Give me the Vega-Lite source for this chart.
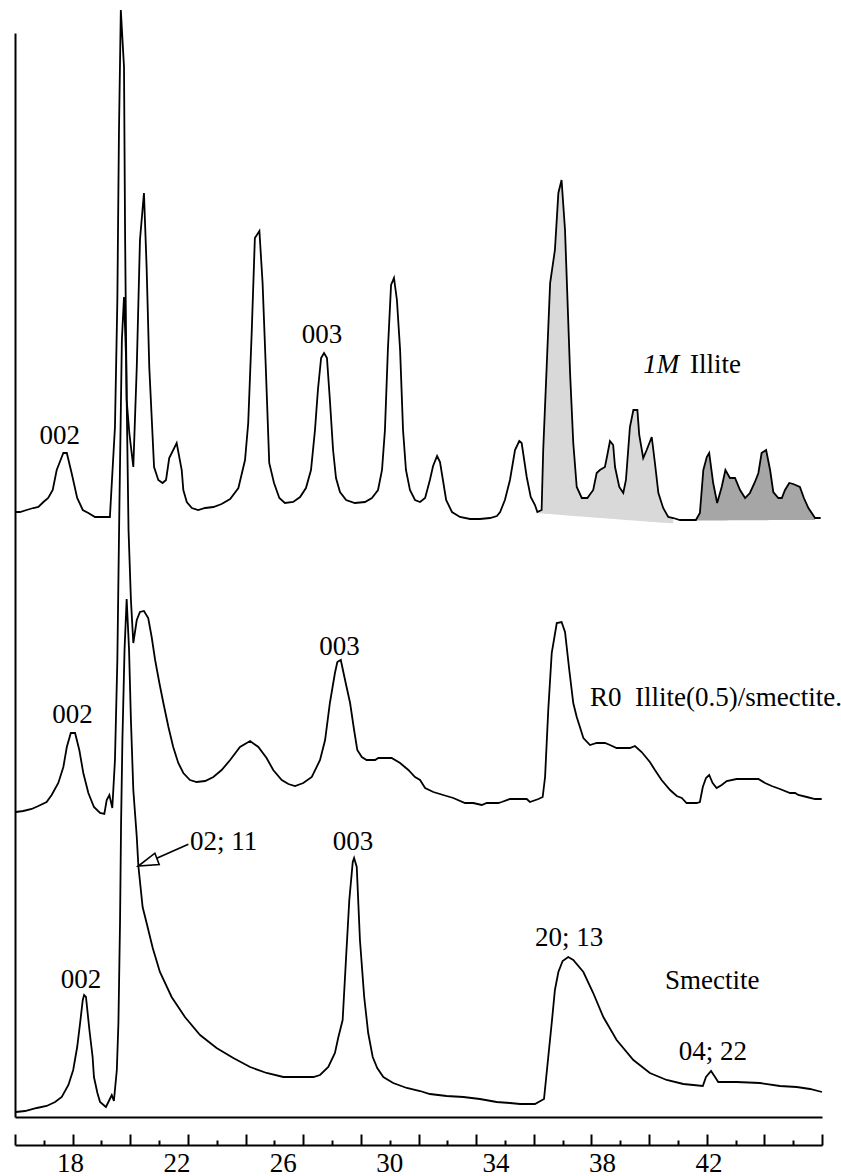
{
  "$schema": "https://vega.github.io/schema/vega-lite/v6.json",
  "width": 807,
  "height": 1084,
  "autosize": {"type": "none"},
  "padding": {"left": 15, "top": 33, "right": 19, "bottom": 59},
  "background": "white",
  "config": {"view": {"stroke": null}, "font": "Liberation Serif, Times New Roman, Times, serif"},
  "datasets": {
    "traces": [
      {"pattern": "1M Illite", "theta": 15.96, "counts": 605},
      {"pattern": "1M Illite", "theta": 16.12, "counts": 605},
      {"pattern": "1M Illite", "theta": 16.37, "counts": 607},
      {"pattern": "1M Illite", "theta": 16.62, "counts": 609},
      {"pattern": "1M Illite", "theta": 16.81, "counts": 610},
      {"pattern": "1M Illite", "theta": 17.0, "counts": 615},
      {"pattern": "1M Illite", "theta": 17.18, "counts": 619},
      {"pattern": "1M Illite", "theta": 17.35, "counts": 627},
      {"pattern": "1M Illite", "theta": 17.5, "counts": 647},
      {"pattern": "1M Illite", "theta": 17.69, "counts": 660},
      {"pattern": "1M Illite", "theta": 17.75, "counts": 664},
      {"pattern": "1M Illite", "theta": 17.88, "counts": 664},
      {"pattern": "1M Illite", "theta": 18.06, "counts": 644},
      {"pattern": "1M Illite", "theta": 18.27, "counts": 619},
      {"pattern": "1M Illite", "theta": 18.48, "counts": 607},
      {"pattern": "1M Illite", "theta": 18.69, "counts": 604},
      {"pattern": "1M Illite", "theta": 18.94, "counts": 600},
      {"pattern": "1M Illite", "theta": 19.5, "counts": 600},
      {"pattern": "1M Illite", "theta": 19.69, "counts": 690},
      {"pattern": "1M Illite", "theta": 19.78, "counts": 817},
      {"pattern": "1M Illite", "theta": 19.84, "counts": 984},
      {"pattern": "1M Illite", "theta": 19.91, "counts": 1107},
      {"pattern": "1M Illite", "theta": 20.03, "counts": 1050},
      {"pattern": "1M Illite", "theta": 20.07, "counts": 884},
      {"pattern": "1M Illite", "theta": 20.13, "counts": 717},
      {"pattern": "1M Illite", "theta": 20.23, "counts": 684},
      {"pattern": "1M Illite", "theta": 20.38, "counts": 650},
      {"pattern": "1M Illite", "theta": 20.51, "counts": 750},
      {"pattern": "1M Illite", "theta": 20.63, "counts": 877},
      {"pattern": "1M Illite", "theta": 20.78, "counts": 924},
      {"pattern": "1M Illite", "theta": 20.88, "counts": 850},
      {"pattern": "1M Illite", "theta": 20.98, "counts": 750},
      {"pattern": "1M Illite", "theta": 21.16, "counts": 650},
      {"pattern": "1M Illite", "theta": 21.32, "counts": 637},
      {"pattern": "1M Illite", "theta": 21.48, "counts": 634},
      {"pattern": "1M Illite", "theta": 21.61, "counts": 637},
      {"pattern": "1M Illite", "theta": 21.73, "counts": 659},
      {"pattern": "1M Illite", "theta": 22.01, "counts": 674},
      {"pattern": "1M Illite", "theta": 22.2, "counts": 647},
      {"pattern": "1M Illite", "theta": 22.26, "counts": 627},
      {"pattern": "1M Illite", "theta": 22.39, "counts": 615},
      {"pattern": "1M Illite", "theta": 22.58, "counts": 609},
      {"pattern": "1M Illite", "theta": 22.82, "counts": 607},
      {"pattern": "1M Illite", "theta": 23.08, "counts": 609},
      {"pattern": "1M Illite", "theta": 23.39, "counts": 610},
      {"pattern": "1M Illite", "theta": 23.7, "counts": 613},
      {"pattern": "1M Illite", "theta": 24.02, "counts": 618},
      {"pattern": "1M Illite", "theta": 24.33, "counts": 629},
      {"pattern": "1M Illite", "theta": 24.58, "counts": 657},
      {"pattern": "1M Illite", "theta": 24.7, "counts": 694},
      {"pattern": "1M Illite", "theta": 24.83, "counts": 784},
      {"pattern": "1M Illite", "theta": 24.95, "counts": 879},
      {"pattern": "1M Illite", "theta": 25.12, "counts": 886},
      {"pattern": "1M Illite", "theta": 25.24, "counts": 834},
      {"pattern": "1M Illite", "theta": 25.36, "counts": 750},
      {"pattern": "1M Illite", "theta": 25.49, "counts": 654},
      {"pattern": "1M Illite", "theta": 25.67, "counts": 634},
      {"pattern": "1M Illite", "theta": 25.87, "counts": 619},
      {"pattern": "1M Illite", "theta": 26.08, "counts": 614},
      {"pattern": "1M Illite", "theta": 26.39, "counts": 615},
      {"pattern": "1M Illite", "theta": 26.65, "counts": 620},
      {"pattern": "1M Illite", "theta": 26.87, "counts": 629},
      {"pattern": "1M Illite", "theta": 27.06, "counts": 647},
      {"pattern": "1M Illite", "theta": 27.21, "counts": 687},
      {"pattern": "1M Illite", "theta": 27.32, "counts": 727},
      {"pattern": "1M Illite", "theta": 27.44, "counts": 759},
      {"pattern": "1M Illite", "theta": 27.55, "counts": 764},
      {"pattern": "1M Illite", "theta": 27.66, "counts": 759},
      {"pattern": "1M Illite", "theta": 27.77, "counts": 717},
      {"pattern": "1M Illite", "theta": 27.89, "counts": 667},
      {"pattern": "1M Illite", "theta": 28.0, "counts": 639},
      {"pattern": "1M Illite", "theta": 28.15, "counts": 625},
      {"pattern": "1M Illite", "theta": 28.38, "counts": 617},
      {"pattern": "1M Illite", "theta": 28.71, "counts": 614},
      {"pattern": "1M Illite", "theta": 29.09, "counts": 615},
      {"pattern": "1M Illite", "theta": 29.35, "counts": 619},
      {"pattern": "1M Illite", "theta": 29.58, "counts": 627},
      {"pattern": "1M Illite", "theta": 29.73, "counts": 647},
      {"pattern": "1M Illite", "theta": 29.84, "counts": 687},
      {"pattern": "1M Illite", "theta": 29.95, "counts": 767},
      {"pattern": "1M Illite", "theta": 30.07, "counts": 832},
      {"pattern": "1M Illite", "theta": 30.18, "counts": 839},
      {"pattern": "1M Illite", "theta": 30.29, "counts": 817},
      {"pattern": "1M Illite", "theta": 30.41, "counts": 767},
      {"pattern": "1M Illite", "theta": 30.52, "counts": 687},
      {"pattern": "1M Illite", "theta": 30.63, "counts": 647},
      {"pattern": "1M Illite", "theta": 30.78, "counts": 627},
      {"pattern": "1M Illite", "theta": 30.97, "counts": 617},
      {"pattern": "1M Illite", "theta": 31.16, "counts": 615},
      {"pattern": "1M Illite", "theta": 31.35, "counts": 619},
      {"pattern": "1M Illite", "theta": 31.53, "counts": 637},
      {"pattern": "1M Illite", "theta": 31.65, "counts": 651},
      {"pattern": "1M Illite", "theta": 31.8, "counts": 661},
      {"pattern": "1M Illite", "theta": 31.91, "counts": 655},
      {"pattern": "1M Illite", "theta": 32.02, "counts": 637},
      {"pattern": "1M Illite", "theta": 32.14, "counts": 617},
      {"pattern": "1M Illite", "theta": 32.36, "counts": 605},
      {"pattern": "1M Illite", "theta": 32.66, "counts": 600},
      {"pattern": "1M Illite", "theta": 33.04, "counts": 598},
      {"pattern": "1M Illite", "theta": 33.41, "counts": 598},
      {"pattern": "1M Illite", "theta": 33.79, "counts": 599},
      {"pattern": "1M Illite", "theta": 34.05, "counts": 601},
      {"pattern": "1M Illite", "theta": 34.17, "counts": 605},
      {"pattern": "1M Illite", "theta": 34.35, "counts": 617},
      {"pattern": "1M Illite", "theta": 34.54, "counts": 637},
      {"pattern": "1M Illite", "theta": 34.73, "counts": 667},
      {"pattern": "1M Illite", "theta": 34.89, "counts": 676},
      {"pattern": "1M Illite", "theta": 34.98, "counts": 674},
      {"pattern": "1M Illite", "theta": 35.17, "counts": 640},
      {"pattern": "1M Illite", "theta": 35.32, "counts": 620},
      {"pattern": "1M Illite", "theta": 35.48, "counts": 612},
      {"pattern": "1M Illite", "theta": 35.57, "counts": 605},
      {"pattern": "1M Illite", "theta": 35.73, "counts": 607},
      {"pattern": "1M Illite", "theta": 35.79, "counts": 667},
      {"pattern": "1M Illite", "theta": 35.92, "counts": 750},
      {"pattern": "1M Illite", "theta": 36.05, "counts": 834},
      {"pattern": "1M Illite", "theta": 36.23, "counts": 867},
      {"pattern": "1M Illite", "theta": 36.36, "counts": 924},
      {"pattern": "1M Illite", "theta": 36.48, "counts": 937},
      {"pattern": "1M Illite", "theta": 36.61, "counts": 887},
      {"pattern": "1M Illite", "theta": 36.8, "counts": 744},
      {"pattern": "1M Illite", "theta": 36.92, "counts": 674},
      {"pattern": "1M Illite", "theta": 37.05, "counts": 630},
      {"pattern": "1M Illite", "theta": 37.24, "counts": 619},
      {"pattern": "1M Illite", "theta": 37.45, "counts": 619},
      {"pattern": "1M Illite", "theta": 37.67, "counts": 627},
      {"pattern": "1M Illite", "theta": 37.8, "counts": 644},
      {"pattern": "1M Illite", "theta": 37.92, "counts": 647},
      {"pattern": "1M Illite", "theta": 38.11, "counts": 650},
      {"pattern": "1M Illite", "theta": 38.2, "counts": 662},
      {"pattern": "1M Illite", "theta": 38.3, "counts": 676},
      {"pattern": "1M Illite", "theta": 38.42, "counts": 672},
      {"pattern": "1M Illite", "theta": 38.49, "counts": 650},
      {"pattern": "1M Illite", "theta": 38.65, "counts": 630},
      {"pattern": "1M Illite", "theta": 38.8, "counts": 624},
      {"pattern": "1M Illite", "theta": 38.9, "counts": 637},
      {"pattern": "1M Illite", "theta": 39.05, "counts": 690},
      {"pattern": "1M Illite", "theta": 39.18, "counts": 707},
      {"pattern": "1M Illite", "theta": 39.33, "counts": 707},
      {"pattern": "1M Illite", "theta": 39.4, "counts": 682},
      {"pattern": "1M Illite", "theta": 39.55, "counts": 659},
      {"pattern": "1M Illite", "theta": 39.68, "counts": 667},
      {"pattern": "1M Illite", "theta": 39.87, "counts": 680},
      {"pattern": "1M Illite", "theta": 39.99, "counts": 654},
      {"pattern": "1M Illite", "theta": 40.12, "counts": 624},
      {"pattern": "1M Illite", "theta": 40.3, "counts": 609},
      {"pattern": "1M Illite", "theta": 40.49, "counts": 600},
      {"pattern": "1M Illite", "theta": 40.68, "counts": 599},
      {"pattern": "1M Illite", "theta": 40.93, "counts": 597},
      {"pattern": "1M Illite", "theta": 41.53, "counts": 597},
      {"pattern": "1M Illite", "theta": 41.68, "counts": 604},
      {"pattern": "1M Illite", "theta": 41.81, "counts": 647},
      {"pattern": "1M Illite", "theta": 41.94, "counts": 660},
      {"pattern": "1M Illite", "theta": 42.03, "counts": 664},
      {"pattern": "1M Illite", "theta": 42.18, "counts": 634},
      {"pattern": "1M Illite", "theta": 42.33, "counts": 614},
      {"pattern": "1M Illite", "theta": 42.5, "counts": 630},
      {"pattern": "1M Illite", "theta": 42.64, "counts": 647},
      {"pattern": "1M Illite", "theta": 42.81, "counts": 639},
      {"pattern": "1M Illite", "theta": 43.0, "counts": 639},
      {"pattern": "1M Illite", "theta": 43.19, "counts": 627},
      {"pattern": "1M Illite", "theta": 43.38, "counts": 619},
      {"pattern": "1M Illite", "theta": 43.56, "counts": 624},
      {"pattern": "1M Illite", "theta": 43.75, "counts": 635},
      {"pattern": "1M Illite", "theta": 43.88, "counts": 644},
      {"pattern": "1M Illite", "theta": 44.0, "counts": 664},
      {"pattern": "1M Illite", "theta": 44.17, "counts": 667},
      {"pattern": "1M Illite", "theta": 44.32, "counts": 647},
      {"pattern": "1M Illite", "theta": 44.44, "counts": 625},
      {"pattern": "1M Illite", "theta": 44.63, "counts": 619},
      {"pattern": "1M Illite", "theta": 44.76, "counts": 619},
      {"pattern": "1M Illite", "theta": 44.88, "counts": 627},
      {"pattern": "1M Illite", "theta": 45.04, "counts": 634},
      {"pattern": "1M Illite", "theta": 45.19, "counts": 633},
      {"pattern": "1M Illite", "theta": 45.44, "counts": 630},
      {"pattern": "1M Illite", "theta": 45.59, "counts": 619},
      {"pattern": "1M Illite", "theta": 45.76, "counts": 609},
      {"pattern": "1M Illite", "theta": 46.01, "counts": 599},
      {"pattern": "1M Illite", "theta": 46.22, "counts": 599},

      {"pattern": "R0 I/S", "theta": 15.96, "counts": 305},
      {"pattern": "R0 I/S", "theta": 16.24, "counts": 306},
      {"pattern": "R0 I/S", "theta": 16.56, "counts": 308},
      {"pattern": "R0 I/S", "theta": 16.81, "counts": 311},
      {"pattern": "R0 I/S", "theta": 17.12, "counts": 315},
      {"pattern": "R0 I/S", "theta": 17.31, "counts": 322},
      {"pattern": "R0 I/S", "theta": 17.56, "counts": 334},
      {"pattern": "R0 I/S", "theta": 17.75, "counts": 350},
      {"pattern": "R0 I/S", "theta": 17.88, "counts": 370},
      {"pattern": "R0 I/S", "theta": 18.03, "counts": 384},
      {"pattern": "R0 I/S", "theta": 18.19, "counts": 384},
      {"pattern": "R0 I/S", "theta": 18.35, "counts": 367},
      {"pattern": "R0 I/S", "theta": 18.5, "counts": 344},
      {"pattern": "R0 I/S", "theta": 18.69, "counts": 324},
      {"pattern": "R0 I/S", "theta": 18.9, "counts": 310},
      {"pattern": "R0 I/S", "theta": 19.13, "counts": 304},
      {"pattern": "R0 I/S", "theta": 19.29, "counts": 303},
      {"pattern": "R0 I/S", "theta": 19.38, "counts": 317},
      {"pattern": "R0 I/S", "theta": 19.48, "counts": 322},
      {"pattern": "R0 I/S", "theta": 19.59, "counts": 309},
      {"pattern": "R0 I/S", "theta": 19.69, "counts": 357},
      {"pattern": "R0 I/S", "theta": 19.78, "counts": 457},
      {"pattern": "R0 I/S", "theta": 19.86, "counts": 617},
      {"pattern": "R0 I/S", "theta": 19.95, "counts": 777},
      {"pattern": "R0 I/S", "theta": 20.03, "counts": 820},
      {"pattern": "R0 I/S", "theta": 20.11, "counts": 757},
      {"pattern": "R0 I/S", "theta": 20.2, "counts": 587},
      {"pattern": "R0 I/S", "theta": 20.29, "counts": 517},
      {"pattern": "R0 I/S", "theta": 20.38, "counts": 474},
      {"pattern": "R0 I/S", "theta": 20.51, "counts": 497},
      {"pattern": "R0 I/S", "theta": 20.63, "counts": 505},
      {"pattern": "R0 I/S", "theta": 20.78, "counts": 506},
      {"pattern": "R0 I/S", "theta": 20.94, "counts": 499},
      {"pattern": "R0 I/S", "theta": 21.07, "counts": 480},
      {"pattern": "R0 I/S", "theta": 21.2, "counts": 457},
      {"pattern": "R0 I/S", "theta": 21.36, "counts": 434},
      {"pattern": "R0 I/S", "theta": 21.51, "counts": 414},
      {"pattern": "R0 I/S", "theta": 21.7, "counts": 390},
      {"pattern": "R0 I/S", "theta": 21.88, "counts": 370},
      {"pattern": "R0 I/S", "theta": 22.07, "counts": 354},
      {"pattern": "R0 I/S", "theta": 22.26, "counts": 344},
      {"pattern": "R0 I/S", "theta": 22.51, "counts": 337},
      {"pattern": "R0 I/S", "theta": 22.76, "counts": 335},
      {"pattern": "R0 I/S", "theta": 23.08, "counts": 336},
      {"pattern": "R0 I/S", "theta": 23.39, "counts": 340},
      {"pattern": "R0 I/S", "theta": 23.7, "counts": 347},
      {"pattern": "R0 I/S", "theta": 24.02, "counts": 357},
      {"pattern": "R0 I/S", "theta": 24.39, "counts": 370},
      {"pattern": "R0 I/S", "theta": 24.77, "counts": 376},
      {"pattern": "R0 I/S", "theta": 25.08, "counts": 370},
      {"pattern": "R0 I/S", "theta": 25.39, "counts": 359},
      {"pattern": "R0 I/S", "theta": 25.64, "counts": 347},
      {"pattern": "R0 I/S", "theta": 25.96, "counts": 337},
      {"pattern": "R0 I/S", "theta": 26.21, "counts": 333},
      {"pattern": "R0 I/S", "theta": 26.46, "counts": 331},
      {"pattern": "R0 I/S", "theta": 26.77, "counts": 334},
      {"pattern": "R0 I/S", "theta": 27.09, "counts": 340},
      {"pattern": "R0 I/S", "theta": 27.4, "counts": 357},
      {"pattern": "R0 I/S", "theta": 27.59, "counts": 377},
      {"pattern": "R0 I/S", "theta": 27.77, "counts": 414},
      {"pattern": "R0 I/S", "theta": 27.96, "counts": 444},
      {"pattern": "R0 I/S", "theta": 28.05, "counts": 455},
      {"pattern": "R0 I/S", "theta": 28.18, "counts": 457},
      {"pattern": "R0 I/S", "theta": 28.34, "counts": 437},
      {"pattern": "R0 I/S", "theta": 28.53, "counts": 414},
      {"pattern": "R0 I/S", "theta": 28.68, "counts": 387},
      {"pattern": "R0 I/S", "theta": 28.8, "counts": 367},
      {"pattern": "R0 I/S", "theta": 28.97, "counts": 360},
      {"pattern": "R0 I/S", "theta": 29.15, "counts": 357},
      {"pattern": "R0 I/S", "theta": 29.47, "counts": 357},
      {"pattern": "R0 I/S", "theta": 29.59, "counts": 359},
      {"pattern": "R0 I/S", "theta": 30.09, "counts": 359},
      {"pattern": "R0 I/S", "theta": 30.41, "counts": 354},
      {"pattern": "R0 I/S", "theta": 30.72, "counts": 347},
      {"pattern": "R0 I/S", "theta": 30.97, "counts": 340},
      {"pattern": "R0 I/S", "theta": 31.16, "counts": 337},
      {"pattern": "R0 I/S", "theta": 31.35, "counts": 329},
      {"pattern": "R0 I/S", "theta": 31.66, "counts": 325},
      {"pattern": "R0 I/S", "theta": 32.03, "counts": 322},
      {"pattern": "R0 I/S", "theta": 32.41, "counts": 319},
      {"pattern": "R0 I/S", "theta": 32.85, "counts": 314},
      {"pattern": "R0 I/S", "theta": 33.16, "counts": 314},
      {"pattern": "R0 I/S", "theta": 33.48, "counts": 312},
      {"pattern": "R0 I/S", "theta": 33.67, "counts": 314},
      {"pattern": "R0 I/S", "theta": 34.1, "counts": 314},
      {"pattern": "R0 I/S", "theta": 34.23, "counts": 315},
      {"pattern": "R0 I/S", "theta": 34.54, "counts": 318},
      {"pattern": "R0 I/S", "theta": 35.17, "counts": 318},
      {"pattern": "R0 I/S", "theta": 35.29, "counts": 315},
      {"pattern": "R0 I/S", "theta": 35.61, "counts": 318},
      {"pattern": "R0 I/S", "theta": 35.77, "counts": 320},
      {"pattern": "R0 I/S", "theta": 35.86, "counts": 340},
      {"pattern": "R0 I/S", "theta": 35.98, "counts": 407},
      {"pattern": "R0 I/S", "theta": 36.11, "counts": 464},
      {"pattern": "R0 I/S", "theta": 36.3, "counts": 494},
      {"pattern": "R0 I/S", "theta": 36.48, "counts": 495},
      {"pattern": "R0 I/S", "theta": 36.61, "counts": 485},
      {"pattern": "R0 I/S", "theta": 36.77, "counts": 447},
      {"pattern": "R0 I/S", "theta": 36.92, "counts": 414},
      {"pattern": "R0 I/S", "theta": 37.05, "counts": 400},
      {"pattern": "R0 I/S", "theta": 37.17, "counts": 390},
      {"pattern": "R0 I/S", "theta": 37.3, "counts": 379},
      {"pattern": "R0 I/S", "theta": 37.55, "counts": 372},
      {"pattern": "R0 I/S", "theta": 37.8, "counts": 374},
      {"pattern": "R0 I/S", "theta": 38.11, "counts": 374},
      {"pattern": "R0 I/S", "theta": 38.3, "counts": 372},
      {"pattern": "R0 I/S", "theta": 38.55, "counts": 369},
      {"pattern": "R0 I/S", "theta": 39.05, "counts": 369},
      {"pattern": "R0 I/S", "theta": 39.24, "counts": 371},
      {"pattern": "R0 I/S", "theta": 39.49, "counts": 365},
      {"pattern": "R0 I/S", "theta": 39.8, "counts": 355},
      {"pattern": "R0 I/S", "theta": 39.99, "counts": 347},
      {"pattern": "R0 I/S", "theta": 40.24, "counts": 337},
      {"pattern": "R0 I/S", "theta": 40.56, "counts": 327},
      {"pattern": "R0 I/S", "theta": 40.81, "counts": 321},
      {"pattern": "R0 I/S", "theta": 41.0, "counts": 319},
      {"pattern": "R0 I/S", "theta": 41.18, "counts": 314},
      {"pattern": "R0 I/S", "theta": 41.56, "counts": 314},
      {"pattern": "R0 I/S", "theta": 41.68, "counts": 315},
      {"pattern": "R0 I/S", "theta": 41.79, "counts": 330},
      {"pattern": "R0 I/S", "theta": 41.91, "counts": 339},
      {"pattern": "R0 I/S", "theta": 42.03, "counts": 342},
      {"pattern": "R0 I/S", "theta": 42.16, "counts": 334},
      {"pattern": "R0 I/S", "theta": 42.31, "counts": 329},
      {"pattern": "R0 I/S", "theta": 42.5, "counts": 332},
      {"pattern": "R0 I/S", "theta": 42.69, "counts": 336},
      {"pattern": "R0 I/S", "theta": 43.06, "counts": 338},
      {"pattern": "R0 I/S", "theta": 43.88, "counts": 338},
      {"pattern": "R0 I/S", "theta": 44.13, "counts": 334},
      {"pattern": "R0 I/S", "theta": 44.38, "counts": 331},
      {"pattern": "R0 I/S", "theta": 44.69, "counts": 328},
      {"pattern": "R0 I/S", "theta": 45.07, "counts": 324},
      {"pattern": "R0 I/S", "theta": 45.26, "counts": 324},
      {"pattern": "R0 I/S", "theta": 45.38, "counts": 322},
      {"pattern": "R0 I/S", "theta": 45.7, "counts": 320},
      {"pattern": "R0 I/S", "theta": 46.01, "counts": 318},
      {"pattern": "R0 I/S", "theta": 46.26, "counts": 318},

      {"pattern": "Smectite", "theta": 15.96, "counts": 5},
      {"pattern": "Smectite", "theta": 16.31, "counts": 6},
      {"pattern": "Smectite", "theta": 16.75, "counts": 9},
      {"pattern": "Smectite", "theta": 17.12, "counts": 11},
      {"pattern": "Smectite", "theta": 17.44, "counts": 15},
      {"pattern": "Smectite", "theta": 17.69, "counts": 20},
      {"pattern": "Smectite", "theta": 17.94, "counts": 32},
      {"pattern": "Smectite", "theta": 18.12, "counts": 47},
      {"pattern": "Smectite", "theta": 18.27, "counts": 70},
      {"pattern": "Smectite", "theta": 18.38, "counts": 94},
      {"pattern": "Smectite", "theta": 18.48, "counts": 117},
      {"pattern": "Smectite", "theta": 18.53, "counts": 122},
      {"pattern": "Smectite", "theta": 18.6, "counts": 120},
      {"pattern": "Smectite", "theta": 18.73, "counts": 87},
      {"pattern": "Smectite", "theta": 18.85, "counts": 60},
      {"pattern": "Smectite", "theta": 18.9, "counts": 40},
      {"pattern": "Smectite", "theta": 19.03, "counts": 24},
      {"pattern": "Smectite", "theta": 19.13, "counts": 15},
      {"pattern": "Smectite", "theta": 19.35, "counts": 10},
      {"pattern": "Smectite", "theta": 19.48, "counts": 17},
      {"pattern": "Smectite", "theta": 19.57, "counts": 22},
      {"pattern": "Smectite", "theta": 19.65, "counts": 16},
      {"pattern": "Smectite", "theta": 19.76, "counts": 47},
      {"pattern": "Smectite", "theta": 19.82, "counts": 94},
      {"pattern": "Smectite", "theta": 19.88, "counts": 194},
      {"pattern": "Smectite", "theta": 19.92, "counts": 294},
      {"pattern": "Smectite", "theta": 19.97, "counts": 377},
      {"pattern": "Smectite", "theta": 20.05, "counts": 467},
      {"pattern": "Smectite", "theta": 20.13, "counts": 518},
      {"pattern": "Smectite", "theta": 20.22, "counts": 467},
      {"pattern": "Smectite", "theta": 20.29, "counts": 397},
      {"pattern": "Smectite", "theta": 20.38, "counts": 327},
      {"pattern": "Smectite", "theta": 20.51, "counts": 280},
      {"pattern": "Smectite", "theta": 20.57, "counts": 251},
      {"pattern": "Smectite", "theta": 20.73, "counts": 210},
      {"pattern": "Smectite", "theta": 20.88, "counts": 194},
      {"pattern": "Smectite", "theta": 21.11, "counts": 169},
      {"pattern": "Smectite", "theta": 21.38, "counts": 145},
      {"pattern": "Smectite", "theta": 21.82, "counts": 120},
      {"pattern": "Smectite", "theta": 22.32, "counts": 100},
      {"pattern": "Smectite", "theta": 22.89, "counts": 82},
      {"pattern": "Smectite", "theta": 23.51, "counts": 69},
      {"pattern": "Smectite", "theta": 24.14, "counts": 59},
      {"pattern": "Smectite", "theta": 24.77, "counts": 50},
      {"pattern": "Smectite", "theta": 25.39, "counts": 44},
      {"pattern": "Smectite", "theta": 26.02, "counts": 40},
      {"pattern": "Smectite", "theta": 27.15, "counts": 40},
      {"pattern": "Smectite", "theta": 27.4, "counts": 42},
      {"pattern": "Smectite", "theta": 27.71, "counts": 50},
      {"pattern": "Smectite", "theta": 27.96, "counts": 64},
      {"pattern": "Smectite", "theta": 28.09, "counts": 80},
      {"pattern": "Smectite", "theta": 28.25, "counts": 97},
      {"pattern": "Smectite", "theta": 28.38, "counts": 160},
      {"pattern": "Smectite", "theta": 28.5, "counts": 217},
      {"pattern": "Smectite", "theta": 28.63, "counts": 255},
      {"pattern": "Smectite", "theta": 28.68, "counts": 259},
      {"pattern": "Smectite", "theta": 28.78, "counts": 250},
      {"pattern": "Smectite", "theta": 28.9, "counts": 177},
      {"pattern": "Smectite", "theta": 29.06, "counts": 120},
      {"pattern": "Smectite", "theta": 29.21, "counts": 84},
      {"pattern": "Smectite", "theta": 29.38, "counts": 60},
      {"pattern": "Smectite", "theta": 29.55, "counts": 49},
      {"pattern": "Smectite", "theta": 29.78, "counts": 40},
      {"pattern": "Smectite", "theta": 30.15, "counts": 34},
      {"pattern": "Smectite", "theta": 30.66, "counts": 29},
      {"pattern": "Smectite", "theta": 31.16, "counts": 26},
      {"pattern": "Smectite", "theta": 31.53, "counts": 23},
      {"pattern": "Smectite", "theta": 32.16, "counts": 21},
      {"pattern": "Smectite", "theta": 32.79, "counts": 20},
      {"pattern": "Smectite", "theta": 33.41, "counts": 18},
      {"pattern": "Smectite", "theta": 34.04, "counts": 15},
      {"pattern": "Smectite", "theta": 34.54, "counts": 14},
      {"pattern": "Smectite", "theta": 34.92, "counts": 13},
      {"pattern": "Smectite", "theta": 35.48, "counts": 13},
      {"pattern": "Smectite", "theta": 35.82, "counts": 18},
      {"pattern": "Smectite", "theta": 35.98, "counts": 60},
      {"pattern": "Smectite", "theta": 36.11, "counts": 94},
      {"pattern": "Smectite", "theta": 36.23, "counts": 127},
      {"pattern": "Smectite", "theta": 36.36, "counts": 145},
      {"pattern": "Smectite", "theta": 36.52, "counts": 156},
      {"pattern": "Smectite", "theta": 36.73, "counts": 160},
      {"pattern": "Smectite", "theta": 36.92, "counts": 157},
      {"pattern": "Smectite", "theta": 37.3, "counts": 145},
      {"pattern": "Smectite", "theta": 37.67, "counts": 124},
      {"pattern": "Smectite", "theta": 38.05, "counts": 100},
      {"pattern": "Smectite", "theta": 38.55, "counts": 77},
      {"pattern": "Smectite", "theta": 39.18, "counts": 57},
      {"pattern": "Smectite", "theta": 39.8, "counts": 44},
      {"pattern": "Smectite", "theta": 40.43, "counts": 37},
      {"pattern": "Smectite", "theta": 41.06, "counts": 33},
      {"pattern": "Smectite", "theta": 41.79, "counts": 31},
      {"pattern": "Smectite", "theta": 41.91, "counts": 40},
      {"pattern": "Smectite", "theta": 42.1, "counts": 46},
      {"pattern": "Smectite", "theta": 42.25, "counts": 40},
      {"pattern": "Smectite", "theta": 42.37, "counts": 35},
      {"pattern": "Smectite", "theta": 43.06, "counts": 35},
      {"pattern": "Smectite", "theta": 43.94, "counts": 34},
      {"pattern": "Smectite", "theta": 44.69, "counts": 31},
      {"pattern": "Smectite", "theta": 45.32, "counts": 30},
      {"pattern": "Smectite", "theta": 45.82, "counts": 28},
      {"pattern": "Smectite", "theta": 46.27, "counts": 25}
    ],
    "fills": [
      {"band": "light", "theta": 35.57, "counts": 605, "base": 604},
      {"band": "light", "theta": 35.73, "counts": 607, "base": 603.5},
      {"band": "light", "theta": 35.79, "counts": 667, "base": 603.4},
      {"band": "light", "theta": 35.92, "counts": 750, "base": 603.1},
      {"band": "light", "theta": 36.05, "counts": 834, "base": 602.9},
      {"band": "light", "theta": 36.23, "counts": 867, "base": 602.5},
      {"band": "light", "theta": 36.36, "counts": 924, "base": 602.2},
      {"band": "light", "theta": 36.48, "counts": 937, "base": 602},
      {"band": "light", "theta": 36.61, "counts": 887, "base": 601.7},
      {"band": "light", "theta": 36.8, "counts": 744, "base": 601.3},
      {"band": "light", "theta": 36.92, "counts": 674, "base": 601.1},
      {"band": "light", "theta": 37.05, "counts": 630, "base": 600.8},
      {"band": "light", "theta": 37.24, "counts": 619, "base": 600.4},
      {"band": "light", "theta": 37.45, "counts": 619, "base": 600},
      {"band": "light", "theta": 37.67, "counts": 627, "base": 599.6},
      {"band": "light", "theta": 37.8, "counts": 644, "base": 599.3},
      {"band": "light", "theta": 37.92, "counts": 647, "base": 599.1},
      {"band": "light", "theta": 38.11, "counts": 650, "base": 598.7},
      {"band": "light", "theta": 38.2, "counts": 662, "base": 598.5},
      {"band": "light", "theta": 38.3, "counts": 676, "base": 598.3},
      {"band": "light", "theta": 38.42, "counts": 672, "base": 598.1},
      {"band": "light", "theta": 38.49, "counts": 650, "base": 597.9},
      {"band": "light", "theta": 38.65, "counts": 630, "base": 597.6},
      {"band": "light", "theta": 38.8, "counts": 624, "base": 597.3},
      {"band": "light", "theta": 38.9, "counts": 637, "base": 597.1},
      {"band": "light", "theta": 39.05, "counts": 690, "base": 596.8},
      {"band": "light", "theta": 39.18, "counts": 707, "base": 596.5},
      {"band": "light", "theta": 39.33, "counts": 707, "base": 596.2},
      {"band": "light", "theta": 39.4, "counts": 682, "base": 596.1},
      {"band": "light", "theta": 39.55, "counts": 659, "base": 595.8},
      {"band": "light", "theta": 39.68, "counts": 667, "base": 595.5},
      {"band": "light", "theta": 39.87, "counts": 680, "base": 595.1},
      {"band": "light", "theta": 39.99, "counts": 654, "base": 594.9},
      {"band": "light", "theta": 40.12, "counts": 624, "base": 594.6},
      {"band": "light", "theta": 40.3, "counts": 609, "base": 594.3},
      {"band": "light", "theta": 40.49, "counts": 600, "base": 593.9},
      {"band": "light", "theta": 40.68, "counts": 599, "base": 593.5},
      {"band": "dark", "theta": 41.53, "counts": 597, "base": 596.5},
      {"band": "dark", "theta": 41.68, "counts": 604, "base": 596.5},
      {"band": "dark", "theta": 41.81, "counts": 647, "base": 596.5},
      {"band": "dark", "theta": 41.94, "counts": 660, "base": 596.5},
      {"band": "dark", "theta": 42.03, "counts": 664, "base": 596.6},
      {"band": "dark", "theta": 42.18, "counts": 634, "base": 596.6},
      {"band": "dark", "theta": 42.33, "counts": 614, "base": 596.6},
      {"band": "dark", "theta": 42.5, "counts": 630, "base": 596.6},
      {"band": "dark", "theta": 42.64, "counts": 647, "base": 596.6},
      {"band": "dark", "theta": 42.81, "counts": 639, "base": 596.7},
      {"band": "dark", "theta": 43.0, "counts": 639, "base": 596.7},
      {"band": "dark", "theta": 43.19, "counts": 627, "base": 596.7},
      {"band": "dark", "theta": 43.38, "counts": 619, "base": 596.7},
      {"band": "dark", "theta": 43.56, "counts": 624, "base": 596.8},
      {"band": "dark", "theta": 43.75, "counts": 635, "base": 596.8},
      {"band": "dark", "theta": 43.88, "counts": 644, "base": 596.8},
      {"band": "dark", "theta": 44.0, "counts": 664, "base": 596.8},
      {"band": "dark", "theta": 44.17, "counts": 667, "base": 596.8},
      {"band": "dark", "theta": 44.32, "counts": 647, "base": 596.9},
      {"band": "dark", "theta": 44.44, "counts": 625, "base": 596.9},
      {"band": "dark", "theta": 44.63, "counts": 619, "base": 596.9},
      {"band": "dark", "theta": 44.76, "counts": 619, "base": 596.9},
      {"band": "dark", "theta": 44.88, "counts": 627, "base": 596.9},
      {"band": "dark", "theta": 45.04, "counts": 634, "base": 597},
      {"band": "dark", "theta": 45.19, "counts": 633, "base": 597},
      {"band": "dark", "theta": 45.44, "counts": 630, "base": 597},
      {"band": "dark", "theta": 45.59, "counts": 619, "base": 597},
      {"band": "dark", "theta": 45.76, "counts": 609, "base": 597},
      {"band": "dark", "theta": 46.01, "counts": 599, "base": 597}
    ],
    "notes": [
      {"label": "002", "theta": 17.61, "counts": 681, "kind": "center"},
      {"label": "003", "theta": 27.47, "counts": 782, "kind": "center"},
      {"label": "002", "theta": 18.09, "counts": 402, "kind": "center"},
      {"label": "003", "theta": 28.13, "counts": 470, "kind": "center"},
      {"label": "002", "theta": 18.41, "counts": 137, "kind": "center"},
      {"label": "003", "theta": 28.64, "counts": 275, "kind": "center"},
      {"label": "20; 13", "theta": 36.76, "counts": 179, "kind": "center"},
      {"label": "04; 22", "theta": 42.17, "counts": 65, "kind": "center"},
      {"label": "R0\u00a0\u00a0Illite(0.5)/smectite.", "theta": 37.55, "counts": 419, "kind": "left"},
      {"label": "02; 11", "theta": 22.51, "counts": 275, "kind": "left"},
      {"label": "Smectite", "theta": 40.37, "counts": 136, "kind": "left"},
      {"label": "Illite", "theta": 41.31, "counts": 752, "kind": "left"},
      {"label": "1M", "theta": 39.55, "counts": 752, "kind": "italic"}
    ],
    "arrow": [
      {"theta": 22.45, "counts": 272.7, "theta2": 21.26, "counts2": 258.7}
    ],
    "tip": [
      {"theta": 20.57, "counts": 251}
    ]
  },
  "layer": [
    {
      "encoding": {
        "x": {
          "field": "theta", "type": "quantitative",
          "scale": {"domain": [15.932, 46.271], "nice": false, "zero": false},
          "axis": {
            "orient": "bottom", "values": [18, 22, 26, 30, 34, 38, 42],
            "ticks": false, "tickSize": 0, "domain": true, "domainColor": "#000", "domainWidth": 2,
            "labelFont": "Liberation Serif, Times New Roman, Times, serif", "labelFontSize": 27, "labelColor": "#000",
            "labelPadding": 54, "labelBaseline": "alphabetic", "labelFlush": false, "labelOverlap": false,
            "grid": false, "title": null
          }
        },
        "y": {
          "field": "counts", "type": "quantitative",
          "scale": {"domain": [0, 1084], "nice": false, "zero": false},
          "axis": {
            "orient": "left", "ticks": false, "labels": false, "domain": true,
            "domainColor": "#000", "domainWidth": 2, "grid": false, "title": null
          }
        }
      },
      "layer": [
        {
          "data": {"name": "fills"},
          "transform": [{"filter": "datum.band === 'light'"}],
          "mark": {"type": "area", "color": "#d9d9d9", "interpolate": "linear"},
          "encoding": {"y2": {"field": "base"}}
        },
        {
          "data": {"name": "fills"},
          "transform": [{"filter": "datum.band === 'dark'"}],
          "mark": {"type": "area", "color": "#a6a6a6", "interpolate": "linear"},
          "encoding": {"y2": {"field": "base"}}
        },
        {
          "data": {"name": "traces"},
          "mark": {"type": "line", "color": "#000", "strokeWidth": 1.8, "interpolate": "linear"},
          "encoding": {"detail": {"field": "pattern"}}
        },
        {
          "data": {"name": "arrow"},
          "mark": {"type": "rule", "color": "#000", "strokeWidth": 1.7},
          "encoding": {"x2": {"field": "theta2"}, "y2": {"field": "counts2"}}
        },
        {
          "data": {"name": "tip"},
          "mark": {"type": "point", "shape": "M0,0L1,-0.3L1,0.3Z", "size": 1600, "angle": -21, "fill": "#fff", "stroke": "#000", "strokeWidth": 1.6, "opacity": 1, "fillOpacity": 1}
        },
        {
          "data": {"name": "notes"},
          "transform": [{"filter": "datum.kind === 'center'"}],
          "mark": {"type": "text", "font": "Liberation Serif, Times New Roman, Times, serif", "fontSize": 27, "color": "#000", "align": "center", "baseline": "middle"},
          "encoding": {"text": {"field": "label"}}
        },
        {
          "data": {"name": "notes"},
          "transform": [{"filter": "datum.kind === 'left'"}],
          "mark": {"type": "text", "font": "Liberation Serif, Times New Roman, Times, serif", "fontSize": 27, "color": "#000", "align": "left", "baseline": "middle"},
          "encoding": {"text": {"field": "label"}}
        },
        {
          "data": {"name": "notes"},
          "transform": [{"filter": "datum.kind === 'italic'"}],
          "mark": {"type": "text", "font": "Liberation Serif, Times New Roman, Times, serif", "fontSize": 27, "fontStyle": "italic", "color": "#000", "align": "left", "baseline": "middle"},
          "encoding": {"text": {"field": "label"}}
        }
      ]
    },
    {
      "data": {"values": [{}]},
      "mark": {"type": "rule", "opacity": 0},
      "encoding": {
        "x": {
          "datum": 16, "type": "quantitative",
          "scale": {"domain": [16, 44], "nice": false, "zero": false},
          "axis": {
            "orient": "bottom", "offset": 28,
            "values": [16, 18, 20, 22, 24, 26, 28, 30, 32, 34, 36, 38, 40, 42, 44],
            "tickSize": -11, "tickWidth": 2, "tickColor": "#000",
            "labels": false, "domain": true, "domainColor": "#000", "domainWidth": 2,
            "grid": false, "title": null
          }
        }
      }
    },
    {
      "data": {"values": [{}]},
      "mark": {"type": "rule", "opacity": 0},
      "encoding": {
        "x": {
          "datum": 17, "type": "quantitative",
          "scale": {"domain": [16, 44], "nice": false, "zero": false},
          "axis": {
            "orient": "bottom", "offset": 28,
            "values": [17, 19, 21, 23, 25, 27, 29, 31, 33, 35, 37, 39, 41, 43],
            "tickSize": -5, "tickWidth": 2, "tickColor": "#000",
            "labels": false, "domain": false,
            "grid": false, "title": null
          }
        }
      }
    }
  ],
  "resolve": {"scale": {"x": "independent"}, "axis": {"x": "independent"}}
}
